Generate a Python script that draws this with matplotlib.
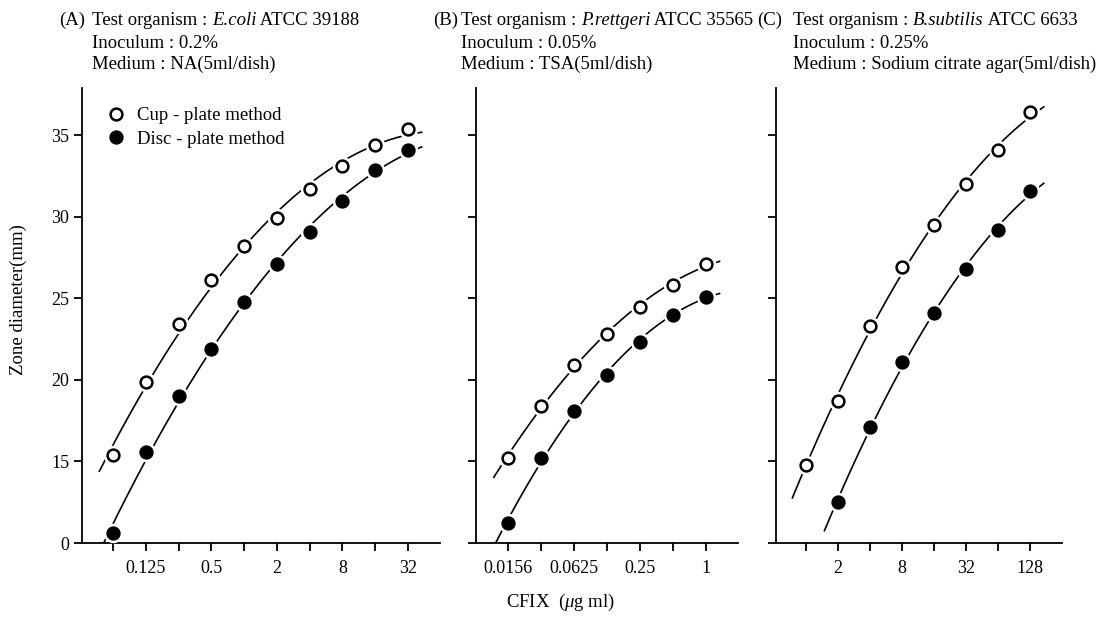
import numpy as np
import matplotlib
matplotlib.use("Agg")
import matplotlib.pyplot as plt
from matplotlib.lines import Line2D

plt.rcParams['font.family'] = ['Liberation Serif', 'DejaVu Serif']
plt.rcParams['mathtext.fontset'] = 'custom'
plt.rcParams['mathtext.rm'] = 'Liberation Serif'
plt.rcParams['mathtext.it'] = 'Liberation Serif:italic'

# ---------------- data ----------------
A_conc = [0.0625, 0.125, 0.25, 0.5, 1, 2, 4, 8, 16, 32]
A_cup = [15.4, 19.9, 23.4, 26.1, 28.2, 29.9, 31.7, 33.1, 34.4, 35.4]
A_disc = [10.6, 15.6, 19.0, 21.9, 24.8, 27.1, 29.1, 31.0, 32.9, 34.1]
A_ticklabels = ['', '0.125', '', '0.5', '', '2', '', '8', '', '32']

B_conc = [0.015625, 0.03125, 0.0625, 0.125, 0.25, 0.5, 1]
B_cup = [15.2, 18.4, 20.9, 22.8, 24.5, 25.85, 27.1]
B_disc = [11.2, 15.2, 18.1, 20.3, 22.3, 24.0, 25.1]
B_ticklabels = ['0.0156', '', '0.0625', '', '0.25', '', '1']

C_conc = [1, 2, 4, 8, 16, 32, 64, 128]
C_cup = [14.8, 18.7, 23.3, 26.9, 29.5, 32.0, 34.1, 36.4]
C_disc_conc = [2, 4, 8, 16, 32, 64, 128]
C_disc = [12.5, 17.1, 21.1, 24.1, 26.8, 29.2, 31.6]
C_ticklabels = ['', '2', '', '8', '', '32', '', '128']

# y axis is broken: the bottom tick (drawn at 10 mm) is labelled "0"
y_ticks = [10, 15, 20, 25, 30, 35]
y_ticklabels = ['0', '15', '20', '25', '30', '35']

titles = [
    ("(A)", [("Test organism : ", 'normal'), ("E.coli", 'italic'), (" ATCC 39188", 'normal')],
     "Inoculum : 0.2%", "Medium : NA(5ml/dish)"),
    ("(B)", [("Test organism : ", 'normal'), ("P.rettgeri", 'italic'), (" ATCC 35565", 'normal')],
     "Inoculum : 0.05%", "Medium : TSA(5ml/dish)"),
    ("(C)", [("Test organism : ", 'normal'), ("B.subtilis", 'italic'), (" ATCC 6633", 'normal')],
     "Inoculum : 0.25%", "Medium : Sodium citrate agar(5ml/dish)"),
]
legend_labels = ["Cup - plate method", "Disc - plate method"]
ylabel = "Zone diameter(mm)"
xlabel = r"CFIX  ($\mathit{\mu}$g ml)"

# ---------------- layout ----------------
W, H = 1117, 623
fig = plt.figure(figsize=(W / 100, H / 100), dpi=100)
renderer = fig.canvas.get_renderer()

def px_axes(x0, x1, ytop, ybot):
    return fig.add_axes([x0 / W, 1 - ybot / H, (x1 - x0) / W, (ybot - ytop) / H])

axA = px_axes(82, 440, 88, 543)
axB = px_axes(476, 738, 88, 543)
axC = px_axes(776, 1062, 88, 543)

panels = [
    (axA, A_conc, A_cup, A_conc, A_disc, A_ticklabels, (-4.95, 5.98)),
    (axB, B_conc, B_cup, B_conc, B_disc, B_ticklabels, (-6.96, 0.98)),
    (axC, C_conc, C_cup, C_disc_conc, C_disc, C_ticklabels, (-0.93, 7.99)),
]

LW = 1.2
for i, (ax, xc, yc, xd, yd, tl, (lo, hi)) in enumerate(panels):
    ax.set_xscale('log', base=2)
    ax.set_xlim(2 ** lo, 2 ** hi)
    ax.set_ylim(10, 37.9)
    for xs, ys, filled in ((xc, yc, False), (xd, yd, True)):
        lx = np.log2(np.asarray(xs, float))
        coef = np.polyfit(lx, ys, 2)
        t = np.linspace(lx[0] - 0.42, lx[-1] + 0.42, 200)
        ax.plot(2 ** t, np.polyval(coef, t), color='black', lw=LW, zorder=2)
        ax.plot(xs, ys, ls='none', marker='o', ms=13, mfc='white', mec='white', zorder=3)
        ax.plot(xs, ys, ls='none', marker='o', ms=8.5,
                mfc='black' if filled else 'white', mec='black', mew=1.8, zorder=4)
    ax.set_xticks(xc)
    ax.set_xticklabels(tl)
    ax.minorticks_off()
    ax.set_yticks(y_ticks)
    if i == 0:
        ax.set_yticklabels(y_ticklabels)
    else:
        ax.set_yticklabels([])
    for s in ('top', 'right'):
        ax.spines[s].set_visible(False)
    for s in ('left', 'bottom'):
        ax.spines[s].set_linewidth(1.3)
    ax.tick_params(axis='both', direction='out', length=6, width=1.3, labelsize=13)
    ax.tick_params(axis='x', pad=6)
    ax.tick_params(axis='y', pad=3)

# legend
handles = [Line2D([], [], ls='none', marker='o', ms=8.5, mfc='white', mec='black', mew=1.8),
           Line2D([], [], ls='none', marker='o', ms=8.5, mfc='black', mec='black', mew=1.8)]
axA.legend(handles, legend_labels, loc='upper left', bbox_to_anchor=(108 / W, 1 - 107 / H),
           bbox_transform=fig.transFigure, frameon=False, fontsize=13.5,
           handlelength=0.8, handletextpad=0.75, labelspacing=0.35, borderpad=0, borderaxespad=0)

TFS = 13.5

def rich_text(x_px, y_px, parts):
    x = x_px
    for s, style in parts:
        t = fig.text(x / W, 1 - y_px / H, s, fontsize=TFS, fontstyle=style,
                     va='baseline', ha='left')
        bb = t.get_window_extent(renderer=renderer)
        x += bb.width

# titles
title_pos = [(59, 92), (433, 461), (757, 793)]
for (lab, l1, l2, l3), (xp, xt) in zip(titles, title_pos):
    fig.text(xp / W, 1 - 25 / H, lab, fontsize=TFS, va='baseline', ha='left')
    rich_text(xt, 25, l1)
    fig.text(xt / W, 1 - 48 / H, l2, fontsize=TFS, va='baseline', ha='left')
    fig.text(xt / W, 1 - 69 / H, l3, fontsize=TFS, va='baseline', ha='left')

fig.text(18 / W, 1 - 300 / H, ylabel, rotation=90, fontsize=13.5, ha='center', va='center')
fig.text(560 / W, 1 - 602 / H, xlabel, fontsize=13.5, ha='center', va='center')

fig.savefig("out.png", dpi=100)
